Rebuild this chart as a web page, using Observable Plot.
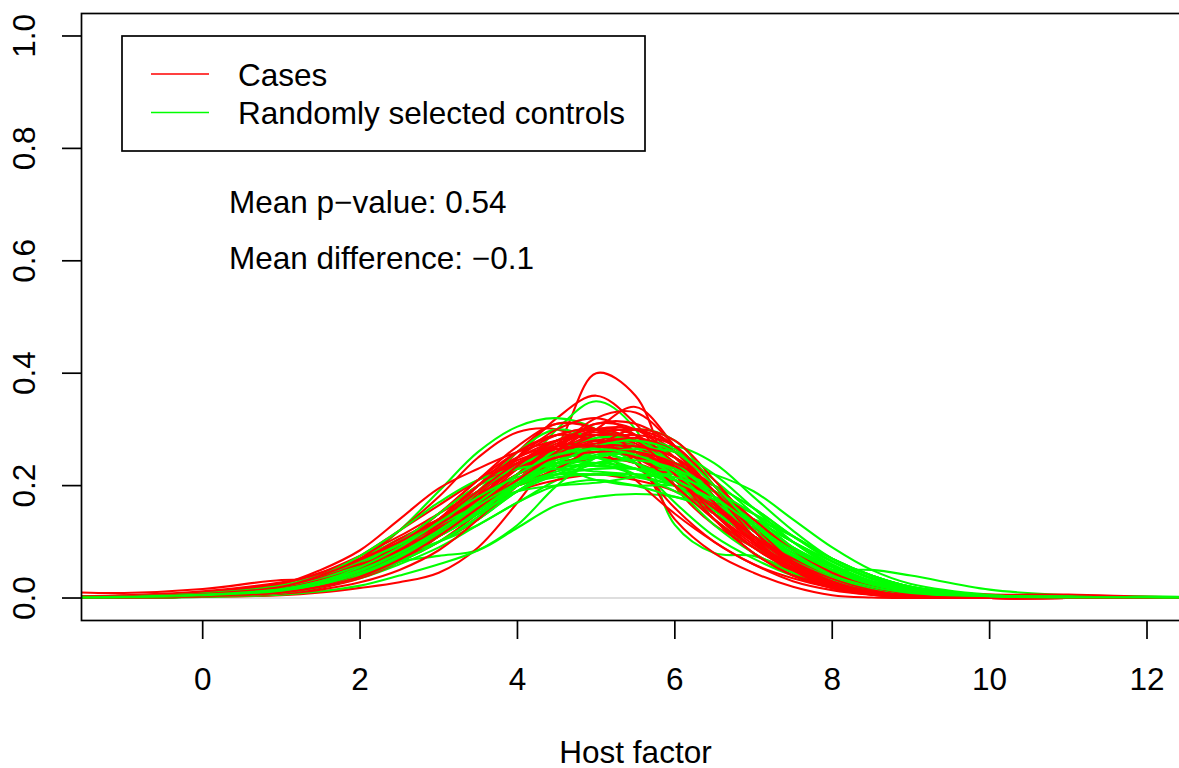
<!DOCTYPE html>
<html><head><meta charset="utf-8">
<script src="https://cdn.jsdelivr.net/npm/d3@7"></script>
<script src="https://cdn.jsdelivr.net/npm/@observablehq/plot@0.6"></script>
<style>
html,body{margin:0;padding:0;background:#fff;overflow:hidden}
#chart{position:relative;width:1179px;height:768px;overflow:hidden}
#chart svg{max-width:none !important;height:768px !important}
</style>
</head><body><div id="chart"></div>
<script>
// x positions (Host factor) at which each density curve was read
const xGrid = [-1.6,-1,0,1,1.5,2,2.5,3,3.5,4,4.5,5,5.5,6,6.5,7,7.5,8,8.5,9,10,11,12,12.6];

// Cases: density values read at xGrid
const cases = [
  [0.002,0.002,0.004,0.012,0.025,0.045,0.075,0.11,0.16,0.21,0.27,0.40,0.36,0.2,0.13,0.09,0.05,0.025,0.01,0.004,0.001,0,0,0],
  [0.001,0.001,0.003,0.01,0.02,0.04,0.07,0.11,0.17,0.25,0.32,0.36,0.31,0.22,0.14,0.08,0.045,0.02,0.008,0.003,0.001,0,0,0],
  [0.001,0.002,0.004,0.012,0.022,0.04,0.065,0.1,0.15,0.2,0.25,0.3,0.34,0.27,0.18,0.1,0.05,0.02,0.008,0.003,0.001,0,0,0],
  [0.003,0.004,0.008,0.025,0.05,0.085,0.14,0.195,0.23,0.26,0.28,0.29,0.27,0.21,0.14,0.08,0.04,0.02,0.008,0.003,0.001,0,0,0],
  [0.01,0.009,0.016,0.032,0.033,0.045,0.07,0.1,0.14,0.2,0.26,0.3,0.29,0.23,0.15,0.09,0.05,0.025,0.01,0.004,0.001,0,0,0],
  [0.001,0.001,0.002,0.005,0.01,0.018,0.028,0.045,0.09,0.17,0.26,0.32,0.33,0.27,0.18,0.1,0.05,0.02,0.007,0.002,0,0,0,0],
  [0.002,0.003,0.006,0.018,0.035,0.06,0.1,0.15,0.21,0.27,0.31,0.3,0.25,0.14,0.08,0.045,0.02,0.005,0.001,0,0,0,0,0],
  [0.002,0.003,0.008,0.02,0.035,0.06,0.09,0.13,0.17,0.21,0.24,0.25,0.24,0.21,0.16,0.11,0.07,0.04,0.02,0.008,0.002,0.001,0,0],
  [0.002,0.003,0.007,0.02,0.04,0.07,0.12,0.18,0.25,0.295,0.3,0.27,0.21,0.15,0.1,0.06,0.035,0.018,0.008,0.003,0.001,0,0,0],
  [0.001,0.002,0.005,0.015,0.03,0.055,0.09,0.14,0.2,0.24,0.24,0.25,0.27,0.24,0.17,0.1,0.05,0.022,0.009,0.003,0.001,0,0,0],
  [0.002,0.003,0.006,0.015,0.03,0.05,0.08,0.11,0.15,0.19,0.21,0.22,0.21,0.19,0.15,0.11,0.075,0.045,0.025,0.012,0.003,0.001,0,0],
  [0.001,0.002,0.004,0.012,0.025,0.045,0.08,0.13,0.19,0.25,0.29,0.3,0.28,0.23,0.16,0.1,0.055,0.025,0.01,0.004,0.001,0,0,0],
  [0.002,0.002,0.005,0.014,0.028,0.05,0.085,0.12,0.16,0.21,0.26,0.29,0.28,0.24,0.18,0.12,0.07,0.035,0.015,0.005,0.001,0,0,0],
  [0.001,0.002,0.004,0.01,0.02,0.04,0.07,0.11,0.17,0.23,0.28,0.29,0.27,0.22,0.16,0.11,0.07,0.04,0.02,0.008,0.002,0.001,0.001,0],
  [0.001,0.001,0.003,0.008,0.018,0.035,0.065,0.11,0.18,0.26,0.31,0.3,0.24,0.16,0.1,0.06,0.03,0.014,0.006,0.002,0,0,0,0],
  [0.002,0.003,0.006,0.016,0.032,0.055,0.09,0.13,0.175,0.22,0.25,0.27,0.27,0.25,0.19,0.12,0.06,0.025,0.01,0.003,0.001,0,0,0],
  [0.001,0.002,0.005,0.013,0.026,0.05,0.09,0.14,0.19,0.23,0.27,0.3,0.3,0.26,0.18,0.1,0.045,0.018,0.007,0.002,0,0,0,0],
  [0.001,0.002,0.004,0.011,0.022,0.04,0.07,0.115,0.17,0.22,0.26,0.28,0.26,0.21,0.15,0.1,0.06,0.035,0.02,0.01,0.006,0.006,0.002,0.001],
  [0.003,0.004,0.009,0.025,0.045,0.075,0.11,0.15,0.19,0.23,0.26,0.27,0.255,0.21,0.15,0.095,0.055,0.03,0.014,0.006,0.001,0,0,0],
  [0.001,0.001,0.003,0.009,0.02,0.04,0.075,0.125,0.185,0.24,0.28,0.295,0.28,0.235,0.17,0.105,0.055,0.024,0.009,0.003,0.001,0,0,0],
  [0.002,0.002,0.006,0.02,0.04,0.075,0.12,0.165,0.21,0.25,0.28,0.29,0.28,0.24,0.17,0.1,0.05,0.02,0.006,0.002,0,0,0,0],
  [0.001,0.001,0.003,0.008,0.015,0.028,0.05,0.085,0.14,0.21,0.27,0.31,0.31,0.27,0.2,0.13,0.07,0.03,0.012,0.004,0.001,0,0,0],
  [0.002,0.003,0.007,0.018,0.034,0.06,0.1,0.15,0.2,0.24,0.27,0.28,0.27,0.23,0.17,0.11,0.06,0.028,0.011,0.004,0.001,0,0,0],
  [0.001,0.002,0.005,0.014,0.028,0.05,0.082,0.125,0.18,0.235,0.275,0.29,0.275,0.23,0.165,0.1,0.052,0.022,0.008,0.002,0,0,0,0],
  [0.003,0.004,0.01,0.026,0.045,0.07,0.1,0.14,0.19,0.25,0.3,0.32,0.29,0.22,0.14,0.08,0.04,0.018,0.007,0.002,0,0,0,0],
  [0.001,0.002,0.005,0.012,0.024,0.045,0.08,0.13,0.2,0.26,0.29,0.28,0.25,0.21,0.16,0.11,0.065,0.035,0.016,0.006,0.001,0,0,0],
  [0.002,0.002,0.006,0.016,0.03,0.055,0.09,0.135,0.18,0.22,0.255,0.28,0.29,0.27,0.2,0.12,0.06,0.025,0.009,0.003,0.001,0,0,0],
  [0.001,0.001,0.004,0.012,0.026,0.05,0.09,0.14,0.2,0.25,0.27,0.27,0.26,0.23,0.18,0.12,0.07,0.035,0.015,0.005,0.001,0,0,0],
  [0.002,0.003,0.006,0.015,0.03,0.055,0.095,0.15,0.21,0.26,0.29,0.3,0.26,0.2,0.14,0.09,0.05,0.025,0.011,0.004,0.001,0,0,0],
  [0.001,0.002,0.004,0.011,0.024,0.045,0.075,0.115,0.165,0.22,0.27,0.31,0.3,0.25,0.17,0.1,0.05,0.02,0.007,0.002,0,0,0,0],
  [0.002,0.003,0.008,0.02,0.038,0.062,0.09,0.12,0.16,0.22,0.27,0.27,0.25,0.24,0.19,0.12,0.065,0.03,0.012,0.004,0.001,0,0,0],
  [0.001,0.002,0.005,0.016,0.034,0.065,0.105,0.14,0.17,0.21,0.26,0.3,0.29,0.24,0.17,0.11,0.07,0.04,0.02,0.007,0.001,0,0,0],
  [0.002,0.002,0.005,0.013,0.025,0.045,0.08,0.125,0.17,0.2,0.23,0.27,0.3,0.28,0.21,0.13,0.065,0.028,0.01,0.003,0,0,0,0],
  [0.003,0.005,0.012,0.028,0.042,0.06,0.085,0.12,0.175,0.235,0.28,0.3,0.28,0.22,0.15,0.09,0.05,0.026,0.012,0.005,0.001,0,0,0],
  [0.001,0.001,0.003,0.01,0.022,0.045,0.085,0.14,0.2,0.245,0.265,0.275,0.285,0.26,0.19,0.11,0.05,0.018,0.006,0.002,0,0,0,0],
  [0.002,0.003,0.006,0.017,0.032,0.055,0.09,0.13,0.175,0.22,0.25,0.26,0.26,0.24,0.2,0.14,0.085,0.045,0.02,0.008,0.002,0.001,0,0],
  [0.001,0.002,0.004,0.01,0.02,0.038,0.068,0.11,0.16,0.21,0.255,0.29,0.3,0.27,0.2,0.12,0.06,0.026,0.01,0.003,0.001,0,0,0],
  [0.002,0.003,0.007,0.02,0.04,0.068,0.1,0.14,0.19,0.24,0.265,0.27,0.27,0.25,0.19,0.12,0.06,0.025,0.009,0.003,0,0,0,0]
];

// Randomly selected controls: density values read at xGrid
const controls = [
  [0.001,0.001,0.003,0.01,0.02,0.04,0.07,0.11,0.16,0.22,0.3,0.35,0.3,0.13,0.08,0.075,0.05,0.03,0.015,0.006,0.001,0,0,0],
  [0.001,0.002,0.004,0.012,0.022,0.04,0.065,0.1,0.14,0.19,0.23,0.25,0.26,0.27,0.24,0.18,0.12,0.07,0.04,0.02,0.005,0.001,0,0],
  [0.002,0.003,0.006,0.018,0.035,0.065,0.12,0.19,0.26,0.305,0.32,0.3,0.24,0.17,0.11,0.07,0.04,0.022,0.01,0.004,0.001,0,0,0],
  [0.002,0.003,0.008,0.02,0.035,0.05,0.065,0.075,0.085,0.125,0.165,0.18,0.185,0.18,0.16,0.13,0.09,0.055,0.03,0.015,0.003,0.001,0,0],
  [0.001,0.002,0.004,0.01,0.02,0.035,0.06,0.09,0.13,0.17,0.21,0.24,0.25,0.24,0.22,0.19,0.14,0.09,0.05,0.025,0.006,0.002,0.001,0],
  [0.001,0.002,0.005,0.013,0.025,0.045,0.075,0.11,0.15,0.2,0.24,0.25,0.24,0.2,0.14,0.09,0.06,0.05,0.05,0.04,0.015,0.005,0.003,0.002],
  [0.001,0.002,0.006,0.016,0.03,0.055,0.09,0.13,0.18,0.23,0.26,0.27,0.26,0.22,0.16,0.11,0.07,0.04,0.02,0.009,0.002,0.001,0.001,0.001],
  [0.003,0.004,0.008,0.02,0.04,0.07,0.105,0.14,0.17,0.2,0.22,0.23,0.23,0.22,0.19,0.14,0.09,0.05,0.025,0.012,0.003,0.001,0.001,0.001],
  [0.001,0.001,0.003,0.01,0.022,0.045,0.08,0.12,0.16,0.2,0.24,0.27,0.28,0.25,0.18,0.11,0.06,0.03,0.013,0.005,0.001,0,0,0],
  [0.002,0.003,0.007,0.018,0.033,0.055,0.085,0.12,0.17,0.22,0.25,0.25,0.23,0.2,0.16,0.12,0.08,0.045,0.022,0.01,0.002,0.001,0,0],
  [0.001,0.001,0.002,0.006,0.012,0.022,0.04,0.06,0.085,0.13,0.2,0.25,0.27,0.25,0.19,0.12,0.07,0.035,0.015,0.006,0.001,0,0,0],
  [0.002,0.003,0.006,0.016,0.03,0.05,0.08,0.12,0.17,0.22,0.24,0.24,0.22,0.2,0.17,0.13,0.09,0.055,0.03,0.015,0.004,0.002,0.001,0.001],
  [0.001,0.002,0.005,0.014,0.03,0.06,0.1,0.14,0.18,0.21,0.22,0.22,0.22,0.21,0.18,0.14,0.1,0.06,0.03,0.014,0.003,0.001,0,0],
  [0.002,0.002,0.004,0.012,0.025,0.045,0.08,0.13,0.19,0.24,0.26,0.25,0.22,0.19,0.15,0.11,0.075,0.045,0.025,0.012,0.004,0.002,0.001,0],
  [0.001,0.002,0.004,0.01,0.02,0.038,0.065,0.1,0.14,0.19,0.23,0.26,0.27,0.26,0.21,0.15,0.09,0.05,0.025,0.01,0.002,0.001,0,0],
  [0.002,0.003,0.006,0.016,0.03,0.052,0.08,0.11,0.15,0.2,0.23,0.21,0.2,0.2,0.18,0.15,0.11,0.07,0.04,0.02,0.005,0.002,0.001,0.001],
  [0.001,0.002,0.005,0.013,0.027,0.05,0.085,0.13,0.175,0.21,0.23,0.24,0.23,0.2,0.155,0.11,0.07,0.04,0.02,0.009,0.002,0.001,0.001,0.001],
  [0.001,0.001,0.003,0.009,0.02,0.04,0.07,0.11,0.16,0.22,0.28,0.3,0.27,0.2,0.13,0.08,0.045,0.025,0.012,0.005,0.001,0,0,0],
  [0.002,0.003,0.007,0.017,0.03,0.05,0.075,0.1,0.13,0.17,0.2,0.21,0.2,0.18,0.16,0.14,0.11,0.07,0.04,0.02,0.005,0.002,0.001,0.001],
  [0.001,0.002,0.004,0.011,0.024,0.045,0.08,0.12,0.165,0.21,0.245,0.26,0.25,0.22,0.17,0.12,0.075,0.042,0.02,0.008,0.002,0.001,0.001,0.001],
  [0.001,0.001,0.004,0.012,0.025,0.05,0.085,0.13,0.19,0.26,0.3,0.28,0.24,0.2,0.16,0.12,0.08,0.045,0.022,0.01,0.003,0.001,0,0],
  [0.002,0.003,0.006,0.015,0.028,0.048,0.075,0.11,0.15,0.19,0.22,0.25,0.28,0.265,0.2,0.13,0.07,0.035,0.015,0.006,0.001,0,0,0],
  [0.001,0.002,0.005,0.014,0.028,0.05,0.08,0.12,0.17,0.22,0.26,0.27,0.25,0.21,0.16,0.11,0.07,0.04,0.02,0.009,0.002,0.001,0.001,0.001],
  [0.002,0.003,0.007,0.018,0.034,0.058,0.09,0.13,0.17,0.2,0.215,0.22,0.215,0.2,0.175,0.14,0.1,0.065,0.036,0.018,0.004,0.002,0.001,0.001],
  [0.001,0.001,0.003,0.009,0.02,0.04,0.07,0.11,0.15,0.19,0.23,0.27,0.3,0.28,0.2,0.12,0.065,0.033,0.015,0.006,0.001,0,0,0],
  [0.002,0.003,0.007,0.02,0.04,0.075,0.12,0.17,0.21,0.23,0.235,0.235,0.23,0.21,0.17,0.12,0.075,0.04,0.02,0.008,0.002,0.001,0,0],
  [0.001,0.002,0.004,0.011,0.022,0.04,0.065,0.1,0.145,0.2,0.25,0.275,0.27,0.24,0.19,0.13,0.08,0.045,0.022,0.01,0.002,0.001,0.001,0.001],
  [0.001,0.002,0.005,0.012,0.024,0.045,0.075,0.115,0.16,0.2,0.22,0.23,0.23,0.225,0.2,0.16,0.11,0.065,0.034,0.016,0.004,0.002,0.001,0.001],
  [0.002,0.003,0.006,0.016,0.032,0.058,0.095,0.14,0.19,0.235,0.26,0.26,0.24,0.21,0.17,0.125,0.085,0.05,0.026,0.012,0.003,0.001,0,0],
  [0.001,0.001,0.004,0.012,0.025,0.045,0.075,0.11,0.155,0.21,0.26,0.285,0.28,0.24,0.18,0.12,0.07,0.038,0.018,0.007,0.001,0,0,0],
  [0.001,0.002,0.005,0.013,0.026,0.047,0.08,0.12,0.16,0.19,0.2,0.205,0.215,0.22,0.2,0.16,0.11,0.07,0.04,0.02,0.005,0.002,0.001,0.001],
  [0.002,0.003,0.007,0.018,0.034,0.06,0.1,0.15,0.2,0.23,0.24,0.25,0.26,0.24,0.18,0.12,0.075,0.045,0.025,0.012,0.003,0.001,0,0],
  [0.001,0.001,0.003,0.01,0.022,0.042,0.072,0.11,0.155,0.2,0.235,0.255,0.265,0.26,0.22,0.16,0.1,0.055,0.027,0.012,0.003,0.001,0.001,0.001],
  [0.002,0.003,0.008,0.022,0.04,0.065,0.095,0.13,0.165,0.2,0.225,0.24,0.245,0.23,0.19,0.135,0.085,0.048,0.024,0.011,0.003,0.001,0,0],
  [0.001,0.002,0.004,0.012,0.024,0.044,0.075,0.115,0.16,0.21,0.25,0.26,0.24,0.21,0.175,0.14,0.1,0.065,0.035,0.016,0.004,0.002,0.001,0.001],
  [0.001,0.002,0.005,0.015,0.03,0.055,0.09,0.135,0.18,0.215,0.23,0.225,0.22,0.215,0.19,0.15,0.1,0.058,0.03,0.014,0.003,0.001,0,0],
  [0.002,0.002,0.005,0.013,0.026,0.048,0.08,0.12,0.165,0.205,0.24,0.27,0.28,0.26,0.2,0.13,0.075,0.04,0.02,0.009,0.002,0.001,0,0],
  [0.001,0.002,0.006,0.016,0.03,0.05,0.08,0.12,0.17,0.22,0.255,0.265,0.255,0.225,0.18,0.13,0.085,0.05,0.026,0.012,0.003,0.001,0.001,0]
];

const xTicks = [0, 2, 4, 6, 8, 10, 12];
const yTicks = [0, 0.2, 0.4, 0.6, 0.8, 1.0];
const seriesNames = ["Cases", "Randomly selected controls"];
const seriesColors = ["#FF0000", "#00FF00"];
const notes = ["Mean p\u2212value: 0.54", "Mean difference: \u22120.1"];
const xLabel = "Host factor";

// Build a long table, interleaving case and control curves (drawing order)
const rows = [];
const n = Math.max(cases.length, controls.length);
for (let i = 0; i < n; i++) {
  [[cases, 0], [controls, 1]].forEach(([set, s]) => {
    const c = set[i];
    if (!c) return;
    c.forEach((v, j) => rows.push({id: s + "-" + i, s, x: xGrid[j], y: v}));
  });
}

const FONT = "'Liberation Sans', Arial, Helvetica, sans-serif";
const FS = 31.5;

const chart = Plot.plot({
  width: 1190,
  height: 768,
  marginLeft: 81,
  marginRight: 1,
  marginTop: 13,
  marginBottom: 148,
  style: {fontFamily: FONT, fontSize: FS + "px", background: "white", color: "black", overflow: "visible", maxWidth: "none"},
  x: {domain: [-1.54, 12.54]},
  y: {domain: [-0.04, 1.04]},
  marks: [
    Plot.ruleY([0], {stroke: "#BEBEBE", strokeWidth: 1.2}),
    Plot.line(rows, {x: "x", y: "y", z: "id", stroke: d => seriesColors[d.s], strokeWidth: 2.1, curve: "catmull-rom", clip: true}),
    Plot.frame({stroke: "black", strokeWidth: 1.7}),
    Plot.axisX({ticks: xTicks, tickSize: 19, tickPadding: 28, fontSize: FS, strokeWidth: 1.7, label: null, tickFormat: d => String(d)}),
    Plot.axisY({ticks: yTicks, tickSize: 19, strokeWidth: 1.7, label: null, tickFormat: () => ""}),
    Plot.text(yTicks, {y: d => d, text: d => d.toFixed(1), frameAnchor: "left", dx: -57, rotate: -90, textAnchor: "middle", lineAnchor: "middle", fontSize: FS, fill: "black"}),
    Plot.text([xLabel], {text: d => d, frameAnchor: "bottom", dy: 142, lineAnchor: "bottom", fontSize: FS, fill: "black"})
  ]
});

const svg = d3.select(chart);
// Legend box
const lg = svg.append("g").attr("font-family", FONT).attr("font-size", FS).attr("text-anchor", "start");
lg.append("rect").attr("x", 122).attr("y", 36).attr("width", 523).attr("height", 115)
  .attr("fill", "white").attr("stroke", "black").attr("stroke-width", 1.7);
seriesNames.forEach((name, i) => {
  const cy = 74 + i * 38.5;
  lg.append("line").attr("x1", 151).attr("x2", 209).attr("y1", cy).attr("y2", cy)
    .attr("stroke", seriesColors[i]).attr("stroke-width", 1.5);
  lg.append("text").attr("x", 238).attr("y", cy + 11.5).attr("fill", "black").attr("text-anchor", "start").text(name);
});
// Annotations
notes.forEach((t, i) => {
  lg.append("text").attr("x", 229).attr("y", 213 + i * 55.5).attr("fill", "black").attr("text-anchor", "start").text(t);
});

document.getElementById("chart").appendChild(chart);
</script>
</body></html>
